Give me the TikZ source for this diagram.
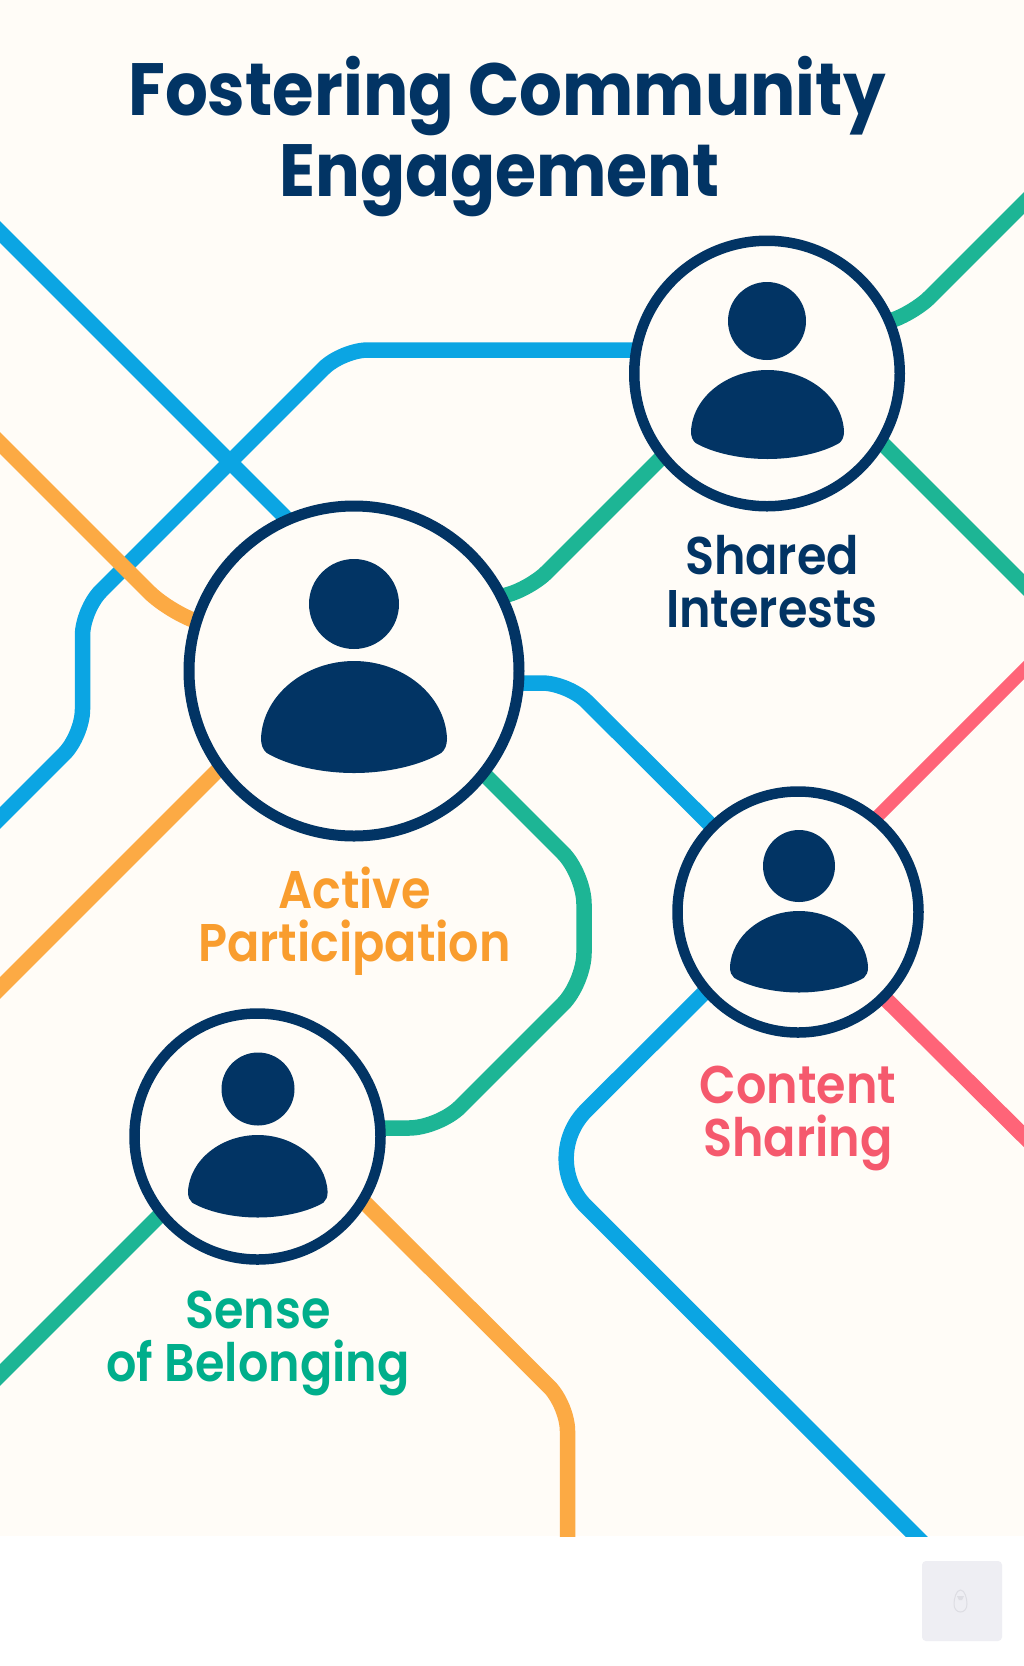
\documentclass[tikz,border=0pt]{standalone}
\usepackage{fontspec}
\usetikzlibrary{backgrounds}
\newfontfamily\labelfont[FakeStretch=0.9,UprightFont=* SemiBold]{Poppins}
\newfontfamily\headfont[FakeStretch=0.91,UprightFont=* Bold]{Poppins}
\definecolor{cream}{HTML}{FFFCF7}
\definecolor{navy}{HTML}{023464}
\definecolor{lineblue}{HTML}{0BA5E3}
\definecolor{linegreen}{HTML}{1DB595}
\definecolor{lineorange}{HTML}{FCAA44}
\definecolor{linepink}{HTML}{FF6478}
\definecolor{textorange}{HTML}{F99D2E}
\definecolor{textpink}{HTML}{F5596D}
\definecolor{textgreen}{HTML}{00AE8B}
\definecolor{badge}{HTML}{EEEEF3}
\definecolor{badgemark}{HTML}{DDDDE3}
\tikzset{
  ring/.style={circle,draw=navy,fill=cream,inner sep=0pt,outer sep=0pt},
  link/.style={line width=15.5pt,line cap=butt,rounded corners=#1},
  link/.default=26pt,
  titletext/.style={align=center,inner sep=0pt,text=navy,font=\headfont\fontsize{74}{81}\selectfont},
  labeltext/.style={align=center,inner sep=0pt,font=\labelfont\fontsize{53}{53}\selectfont},
}
% head x, head y, head r, body left, body top, body width, body height
\newcommand\personicon[7]{%
  \fill[navy] (#1,#2) circle[radius=#3];
  \begin{scope}[shift={(#4,#5)},xscale=#6,yscale=#7]
    \fill[navy] (0,.69) .. controls (.01,.30) and (.24,0) .. (.5,0)
      .. controls (.76,0) and (.99,.30) .. (1,.69)
      .. controls (1,.75) and (.99,.79) .. (.97,.82)
      .. controls (.86,.93) and (.68,1) .. (.5,1)
      .. controls (.32,1) and (.14,.93) .. (.03,.82)
      .. controls (.01,.79) and (0,.75) .. (0,.69) -- cycle;
  \end{scope}}
\begin{document}
\begin{tikzpicture}[x=1pt,y=-1pt]
\useasboundingbox (0,0) rectangle (1024,1666);

\node[ring,line width=11pt,minimum size=330pt] (big) at (354,671) {};
\node[ring,line width=10.5pt,minimum size=265.5pt] (shared) at (767,373.5) {};
\node[ring,line width=10.5pt,minimum size=241pt] (content) at (798,912) {};
\node[ring,line width=10.5pt,minimum size=246pt] (sense) at (257.5,1136.5) {};

\personicon{354}{604}{45}{261}{661}{186}{112}
\personicon{767}{321}{39}{691}{370}{153}{89}
\personicon{799}{866}{36}{730}{911}{138}{81.5}
\personicon{258}{1089}{36.5}{188}{1135}{139.6}{82.5}

\node[titletext] (title) at (507,136.5) {Fostering Community\\\hspace*{-15pt}\scalebox{0.988}[1]{Engagement}};
\node[labeltext,text=navy] (sharedlabel) at (772,582) {Shared\\Interests};
\node[labeltext,text=textorange] (activelabel) at (354.5,921) {Active\\Participation};
\node[labeltext,text=textpink] (contentlabel) at (798,1118) {Content\\Sharing};
\node[labeltext,text=textgreen] (senselabel) at (258,1343) {Sense\\of Belonging};

\begin{scope}[on background layer]
  \fill[white] (0,0) rectangle (1024,1666);
  \fill[cream] (0,0) rectangle (1024,1536);
  \fill[badge,rounded corners=4pt] (922,1561) rectangle (1002,1641);
  \draw[badgemark,line width=1pt] (960.5,1590) .. controls (965,1590) and (967,1599) .. (967,1604)
    .. controls (967,1609) and (964,1612) .. (960.5,1612)
    .. controls (957,1612) and (954,1609) .. (954,1604)
    .. controls (954,1599) and (956,1590) .. (960.5,1590) -- cycle;
  \fill[badgemark] (957,1596) -- (964,1596) -- (962,1600) -- (959,1600) -- cycle;
  \begin{scope}
    \clip (0,0) rectangle (1024,1536);
    % blue
    \draw[link,lineblue] (-20,212) -- (300,532) -- (big.center);
    \draw[link,lineblue] (-20,838) -- (82.5,735.5) -- (82.5,609.5) -- (342,350) -- (720,350) -- (shared.center);
    \draw[link,lineblue] (big.center) -- (450,683) -- (568,683) -- (content.center);
    \draw[link=68pt,lineblue] (750,947) -- (538,1158.5) -- (935,1555);
    \draw[lineblue,line width=15.5pt] (content.center) -- (750,947);
    % green
    \draw[link=24pt,linegreen] (big.center) -- (440,612) -- (530,589) -- (690,429) -- (shared.center);
    \draw[link=24pt,linegreen] (shared.center) -- (840,336) -- (913,314) -- (1050,177);
    \draw[link,linegreen] (shared.center) -- (830,391) -- (1050,611);
    \draw[link=30pt,linegreen] (big.center) -- (430,720) -- (584,874) -- (584,983) -- (439,1128) -- (340,1128) -- (sense.center);
    \draw[link,linegreen] (sense.center) -- (200,1175) -- (-20,1395);
    % pink
    \draw[link,linepink,line width=13pt] (content.center) -- (840,854) -- (1050,644);
    \draw[link,linepink] (content.center) -- (1060,1172);
    % orange
    \draw[link=30pt,lineorange] (-20,423) -- (170,613) -- (big.center);
    \draw[link,lineorange] (big.center) -- (250,738) -- (-20,1008);
    \draw[link,lineorange] (sense.center) -- (320,1158) -- (567.5,1405) -- (567.5,1560);
  \end{scope}
\end{scope}
\end{tikzpicture}
\end{document}
